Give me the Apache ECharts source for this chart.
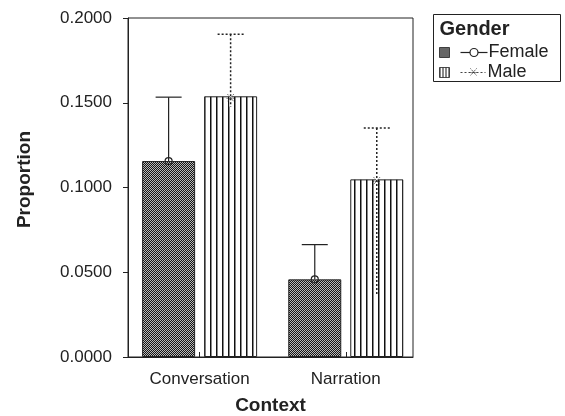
<!DOCTYPE html>
<html>
<head>
<meta charset="utf-8">
<script src="https://cdn.jsdelivr.net/npm/echarts@6/dist/echarts.min.js"></script>
<style>html,body{margin:0;padding:0;background:#fff;}#c{width:565px;height:416px;}</style>
</head>
<body>
<div id="c"></div>
<script>
// ---- data ----
const categories = ['Conversation', 'Narration'];
const femaleMean  = [0.1156, 0.0458];
const femaleUpper = [0.1533, 0.0663];
const maleMean    = [0.1538, 0.1048];
const maleUpper   = [0.1904, 0.1351];
const maleLower   = [0.1477, 0.0366];
const yMin = 0, yMax = 0.2, yStep = 0.05;
const legendTitle = 'Gender';
const seriesNames = ['Female', 'Male'];

// ---- patterns ----
function checker() {
  const c = document.createElement('canvas'); c.width = 2; c.height = 2;
  const g = c.getContext('2d');
  g.fillStyle = '#151515'; g.fillRect(0, 0, 2, 2);
  g.fillStyle = '#b8b8b8'; g.fillRect(0, 0, 1, 1); g.fillRect(1, 1, 1, 1);
  return c;
}
function stripes() {
  const c = document.createElement('canvas'); c.width = 6; c.height = 4;
  const g = c.getContext('2d');
  g.fillStyle = '#ffffff'; g.fillRect(0, 0, 6, 4);
  g.fillStyle = '#111'; g.fillRect(0, 0, 1, 4);
  g.fillStyle = '#888'; g.fillRect(1, 0, 1, 4);
  return c;
}
function stripesSmall() {
  const c = document.createElement('canvas'); c.width = 3; c.height = 4;
  const g = c.getContext('2d');
  g.fillStyle = '#ffffff'; g.fillRect(0, 0, 3, 4);
  g.fillStyle = '#111'; g.fillRect(0, 0, 1, 4);
  return c;
}
const femaleFill = { image: checker(), repeat: 'repeat' };
const maleFill = { image: stripes(), repeat: 'repeat' };
const maleFillLegend = { image: stripesSmall(), repeat: 'repeat' };

const FONT = '"Liberation Sans", Arial, sans-serif';
const BAR_W = 53, GAP = 9, OFF = (BAR_W + GAP) / 2, CAP = 13;
const catIdx = categories.map((c, i) => i);

function starMarker(cx, cy) {
  const s = { stroke: '#333', lineWidth: 1, lineDash: [1, 1] };
  return [
    { type: 'line', shape: { x1: cx - 4, y1: cy + 2, x2: cx + 4, y2: cy + 2 }, style: s },
    { type: 'line', shape: { x1: cx - 3, y1: cy - 2, x2: cx + 3, y2: cy + 5 }, style: s },
    { type: 'line', shape: { x1: cx + 3, y1: cy - 2, x2: cx - 3, y2: cy + 5 }, style: s }
  ];
}

function errRender(offset, dashed) {
  return function (params, api) {
    const cat = api.value(0);
    const m = api.coord([cat, api.value(1)]);
    const u = api.coord([cat, api.value(2)]);
    const l = api.coord([cat, api.value(3)]);
    const cx = m[0] + offset;
    const st = dashed
      ? { stroke: '#222', lineWidth: 1.5, lineDash: [2, 2] }
      : { stroke: '#222', lineWidth: 1.2 };
    let children = [];
    if (dashed) {
      children.push({ type: 'line', shape: { x1: cx, y1: u[1], x2: cx, y2: l[1] }, style: { stroke: '#fff', lineWidth: 2.5 } });
    }
    children.push({ type: 'line', shape: { x1: cx, y1: u[1], x2: cx, y2: l[1] }, style: st });
    children.push({ type: 'line', shape: { x1: cx - CAP, y1: u[1], x2: cx + CAP, y2: u[1] }, style: st });
    if (dashed) {
      children = children.concat(starMarker(cx, m[1]));
    } else {
      children.push({ type: 'circle', shape: { cx: cx, cy: m[1], r: 3.5 }, style: { stroke: '#222', fill: 'rgba(0,0,0,0)', lineWidth: 1.2 } });
    }
    return { type: 'group', children: children };
  };
}

const femaleBars = catIdx.map(i => [i, femaleMean[i]]);
const maleBars = catIdx.map(i => [i, maleMean[i]]);
const femaleErr = catIdx.map(i => [i, femaleMean[i], femaleUpper[i], femaleMean[i]]);
const maleErr = catIdx.map(i => [i, maleMean[i], maleUpper[i], maleLower[i]]);

const chart = echarts.init(document.getElementById('c'), null, { renderer: 'canvas' });
chart.setOption({
  animation: false,
  textStyle: { fontFamily: FONT },
  grid: { left: 128, right: 152, top: 18, bottom: 59, outerBoundsMode: 'none', containLabel: false,
          show: true, borderColor: '#222', borderWidth: 1, backgroundColor: 'transparent' },
  xAxis: {
    type: 'value', min: -0.49, max: 1.46,
    name: 'Context', nameLocation: 'middle', nameGap: 39,
    nameTextStyle: { fontSize: 19, fontWeight: 'bold', color: '#222', fontFamily: FONT },
    axisLine: { show: true, onZero: false, lineStyle: { color: '#222', width: 1 } },
    axisTick: { show: true, inside: true, length: 5, customValues: catIdx, lineStyle: { color: '#222' } },
    axisLabel: { fontSize: 17, color: '#222', margin: 14, fontFamily: FONT, customValues: catIdx,
                 formatter: v => categories[Math.round(v)] || '' },
    splitLine: { show: false }
  },
  yAxis: {
    type: 'value', min: yMin, max: yMax, interval: yStep,
    name: 'Proportion', nameLocation: 'middle', nameGap: 94, nameRotate: 90,
    nameTextStyle: { fontSize: 19, fontWeight: 'bold', color: '#222', fontFamily: FONT, padding: [0, 0, 0, 16] },
    axisLine: { show: true, onZero: false, lineStyle: { color: '#222', width: 1 } },
    axisTick: { show: true, length: 5, lineStyle: { color: '#222' } },
    axisLabel: { fontSize: 17, color: '#222', margin: 16, fontFamily: FONT, formatter: v => v.toFixed(4) },
    splitLine: { show: false }
  },
  series: [
    { name: seriesNames[0], type: 'bar', data: femaleBars, barWidth: BAR_W, barGap: (GAP / BAR_W * 100).toFixed(1) + '%',
      itemStyle: { color: femaleFill, borderColor: '#222', borderWidth: 1 } },
    { name: seriesNames[1], type: 'bar', data: maleBars, barWidth: BAR_W,
      itemStyle: { color: maleFill, borderColor: '#222', borderWidth: 1 } },
    { type: 'custom', renderItem: errRender(-OFF, false), data: femaleErr, encode: { x: 0, y: [1, 2, 3] }, z: 5 },
    { type: 'custom', renderItem: errRender(OFF, true), data: maleErr, encode: { x: 0, y: [1, 2, 3] }, z: 5 }
  ],
  graphic: [
    { type: 'group', left: 433, top: 14, children: [
      { type: 'rect', shape: { x: 0, y: 0, width: 127, height: 67 }, style: { fill: '#fff', stroke: '#222', lineWidth: 1 } },
      { type: 'text', x: 6, y: 15, style: { text: legendTitle, font: 'bold 20px ' + FONT, fill: '#222', verticalAlign: 'middle' } },
      { type: 'rect', shape: { x: 6, y: 33, width: 10, height: 10 }, style: { fill: femaleFill, stroke: '#222', lineWidth: 0.8 } },
      { type: 'line', shape: { x1: 27, y1: 38, x2: 54, y2: 38 }, style: { stroke: '#222', lineWidth: 1.2 } },
      { type: 'circle', shape: { cx: 40.5, cy: 38, r: 4 }, style: { stroke: '#222', fill: '#fff', lineWidth: 1.2 } },
      { type: 'text', x: 55, y: 38, style: { text: seriesNames[0], font: '18px ' + FONT, fill: '#222', verticalAlign: 'middle' } },
      { type: 'rect', shape: { x: 6, y: 53, width: 10, height: 10 }, style: { fill: maleFillLegend, stroke: '#222', lineWidth: 0.8 } },
      { type: 'line', shape: { x1: 27, y1: 58, x2: 52, y2: 58 }, style: { stroke: '#444', lineWidth: 1.2, lineDash: [2, 2] } },
      { type: 'group', children: starMarker(40, 56) },
      { type: 'text', x: 54, y: 58, style: { text: seriesNames[1], font: '18px ' + FONT, fill: '#222', verticalAlign: 'middle' } }
    ] }
  ]
});
</script>
</body>
</html>
